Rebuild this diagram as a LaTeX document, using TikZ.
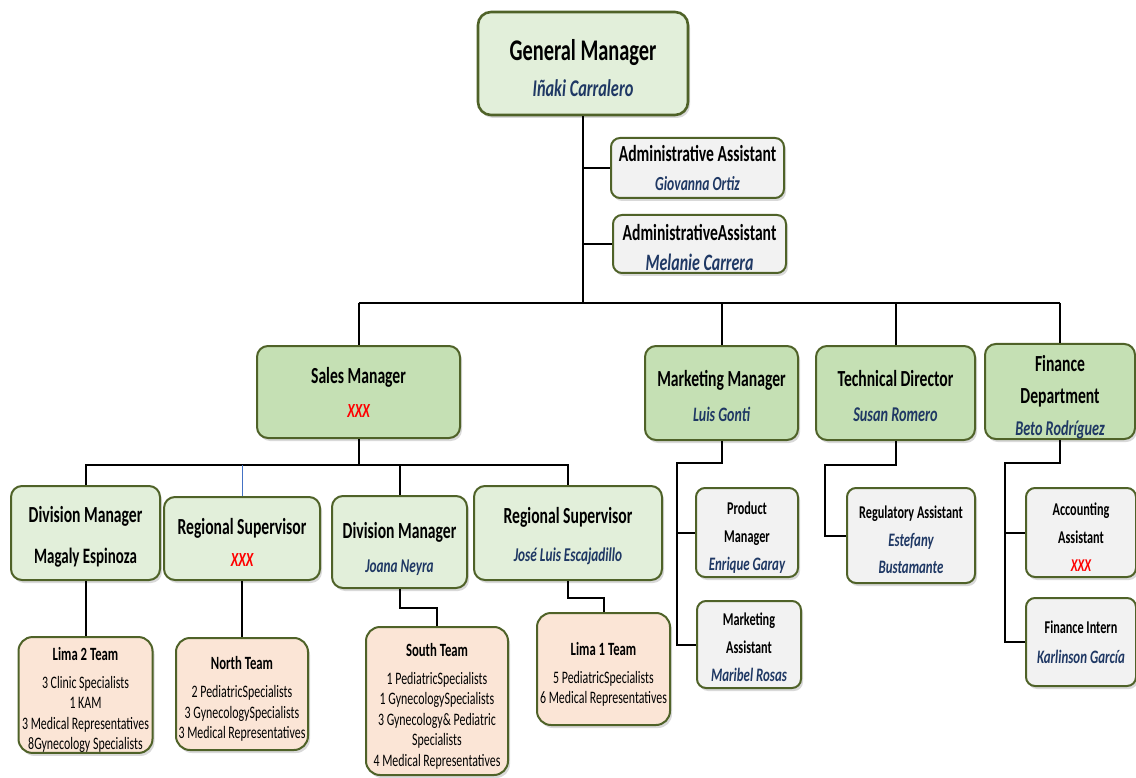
\documentclass[tikz,border=0pt]{standalone}
\usepackage{fontspec}
\setmainfont{Carlito}[FakeStretch=0.68]
\usetikzlibrary{shadows}
\definecolor{edgegreen}{RGB}{79,98,40}
\definecolor{topfill}{RGB}{226,239,218}
\definecolor{mgrfill}{RGB}{197,224,180}
\definecolor{subfill}{RGB}{226,239,218}
\definecolor{stafffill}{RGB}{242,242,242}
\definecolor{teamfill}{RGB}{251,229,214}
\definecolor{namecol}{RGB}{31,56,100}
\definecolor{linkblue}{RGB}{68,114,196}
\newcommand{\who}[2]{{\fontsize{#1}{#1}\selectfont\color{namecol}\itshape #2}}
\newcommand{\tbd}[1]{{\fontsize{#1}{#1}\selectfont\color{red}\itshape XXX}}
\newcommand{\sink}[1][1em]{\rule{0pt}{#1}}
\newcommand{\teamhead}[1]{{\fontsize{18.7}{18.7}\selectfont\bfseries\sink[1.25em]#1}}
\begin{document}
\begin{tikzpicture}
			[x=1pt,y=-1pt,
			box/.style={draw=edgegreen,line width=2pt,rounded corners=11pt,align=center,inner sep=0pt,
				drop shadow={shadow xshift=2pt,shadow yshift=-3pt,opacity=.3}},
			fsz/.style 2 args={font=\fontsize{#1}{#2}\selectfont\bfseries},
			wh/.style 2 args={minimum width=#1pt,minimum height=#2pt},
			gmbox/.style={box,fill=topfill,line width=2.6pt,rounded corners=13pt},
			mgrbox/.style={box,fill=mgrfill},
			subbox/.style={box,fill=subfill},
			staffbox/.style={box,fill=stafffill,rounded corners=9pt},
			teambox/.style={box,fill=teamfill,rounded corners=14pt,font=\fontsize{17.5}{20.5}\selectfont},
			wire/.style={line width=2pt},
			bus/.style={line width=2.6pt},
			wirebl/.style={line width=1pt,draw=linkblue}]
			\useasboundingbox (0,0) rectangle (1136,778);
			\node[gmbox,wh={210}{103},fsz={30}{36}] (gm) at (583,63.5) {\sink General Manager\\ \who{24}{Iñaki Carralero}};
			\node[staffbox,wh={173}{60},fsz={23}{29}] (admA) at (697.5,168) {Administrative Assistant\\ \who{20}{Giovanna Ortiz}};
			\node[staffbox,wh={173}{58},fsz={23}{30}] (admB) at (699.5,244) {\sink AdministrativeAssistant\\ \who{23.5}{Melanie Carrera}};
			
			\node[mgrbox,wh={203}{92},fsz={23}{34}] (sales) at (358.5,392) {Sales Manager\\ \tbd{20}};
			\node[mgrbox,wh={153}{94},fsz={23}{35}] (mkt) at (721.5,393) {\sink Marketing Manager\\ \who{20.5}{Luis Gonti}};
			\node[mgrbox,wh={159}{94},fsz={23}{35}] (tech) at (895.5,393) {\sink Technical Director\\ \who{21}{Susan Romero}};
			\node[mgrbox,wh={150}{91},fsz={23}{32}] (fin) at (1060,391.5) {\sink[1.2em]Finance\\ Department\\ \who{21}{Beto Rodríguez}};
			
			\node[subbox,wh={149}{94},fsz={23}{41}] (divA) at (85.5,533) {\sink Division Manager\\ {\fontsize{22}{22}\selectfont Magaly Espinoza}};
			\node[subbox,wh={156}{83},fsz={23}{32}] (regA) at (242,538.5) {\sink Regional Supervisor\\ \tbd{20}};
			\node[subbox,wh={135}{92},fsz={23}{34}] (divB) at (399.5,542) {\sink[1.3em]Division Manager\\ \who{19.5}{Joana Neyra}};
			\node[subbox,wh={188}{94},fsz={23}{38}] (regB) at (568,533) {\sink Regional Supervisor\\ \who{19.5}{José Luis Escajadillo}};
			
			\node[staffbox,wh={102}{89},fsz={18}{28}] (prod) at (747,532.5) {\sink[1.3em]Product\\ Manager\\ \who{19}{Enrique Garay}};
			\node[staffbox,wh={104}{87},fsz={18}{28}] (mktasst) at (749,644.5) {\sink Marketing\\ Assistant\\ \who{19}{Maribel Rosas}};
			\node[staffbox,wh={128}{95},fsz={18}{27.5}] (regasst) at (911,535.5) {\sink[1.2em]Regulatory Assistant\\ \who{19}{Estefany}\\ \who{19}{Bustamante}};
			\node[staffbox,wh={110}{89},fsz={18}{28}] (acct) at (1081,532.5) {\sink[1.2em]Accounting\\ Assistant\\ \tbd{18}};
			\node[staffbox,wh={110}{88},fsz={18}{30}] (intern) at (1081,642) {Finance Intern\\ \who{19}{Karlinson García}};
			
			\node[teambox,wh={134}{114}] (limaB) at (85.5,695) {\teamhead{Lima 2 Team}\\[7.5pt] 3 Clinic Specialists\\ 1 KAM\\ 3 Medical Representatives\\ 8Gynecology Specialists};
			\node[teambox,wh={132}{112}] (north) at (242,694) {\teamhead{North Team}\\[7.5pt] 2 PediatricSpecialists\\ 3 GynecologySpecialists\\ 3 Medical Representatives};
			\node[teambox,wh={142}{148}] (south) at (437,701) {\teamhead{South Team}\\[7.5pt] 1 PediatricSpecialists\\ 1 GynecologySpecialists\\ 3 Gynecology\& Pediatric\\ Specialists\\ 4 Medical Representatives};
			\node[teambox,wh={133}{112}] (limaA) at (603.5,669) {\teamhead{Lima 1 Team}\\[7.5pt] 5 PediatricSpecialists\\ 6 Medical Representatives};
			
			\coordinate (hub) at (583,303);
			\coordinate (sbus) at (358.5,465);
			\coordinate (mkttrunk) at (677,463);
			\coordinate (techtrunk) at (825,465);
			\coordinate (fintrunk) at (1005,463);
			
			\draw[bus] (gm) -- (hub);
			\draw[bus] (sales.north |- hub) -- (fin.north |- hub);
			\foreach \n in {sales,mkt,tech,fin}
			\draw[wire] (\n.north |- hub) -- (\n.north);
			\foreach \n in {admA,admB}
			\draw[wire] (gm.south |- \n.west) -- (\n.west);
			
			\draw[wire] (sales) -- (sbus);
			\draw[wire] (divA.north) |- (sbus) -| (regB.north);
			\draw[wire] (sbus) -| (divB.north);
			\draw[wirebl] (regA.north) -- (regA.north |- sbus);
			
			\foreach \from/\to in {divA/limaB,regA/north}
			\draw[wire] (\from) -- (\to);
			\draw[wire] (divB.south) -- ++(0,19) -| (south.north);
			\draw[wire] (regB.south) -- ++(0,17) -| (limaA.north);
			
			\draw[wire] (mkt.south) |- (mkttrunk) |- (mktasst.west);
			\draw[wire] (mkttrunk |- prod.west) -- (prod.west);
			\draw[wire] (tech.south) |- (techtrunk) |- (regasst.west);
			\draw[wire] (fin.south) |- (fintrunk) |- (intern.west);
			\draw[wire] (fintrunk |- acct.west) -- (acct.west);
			\end{tikzpicture}
\end{document}
